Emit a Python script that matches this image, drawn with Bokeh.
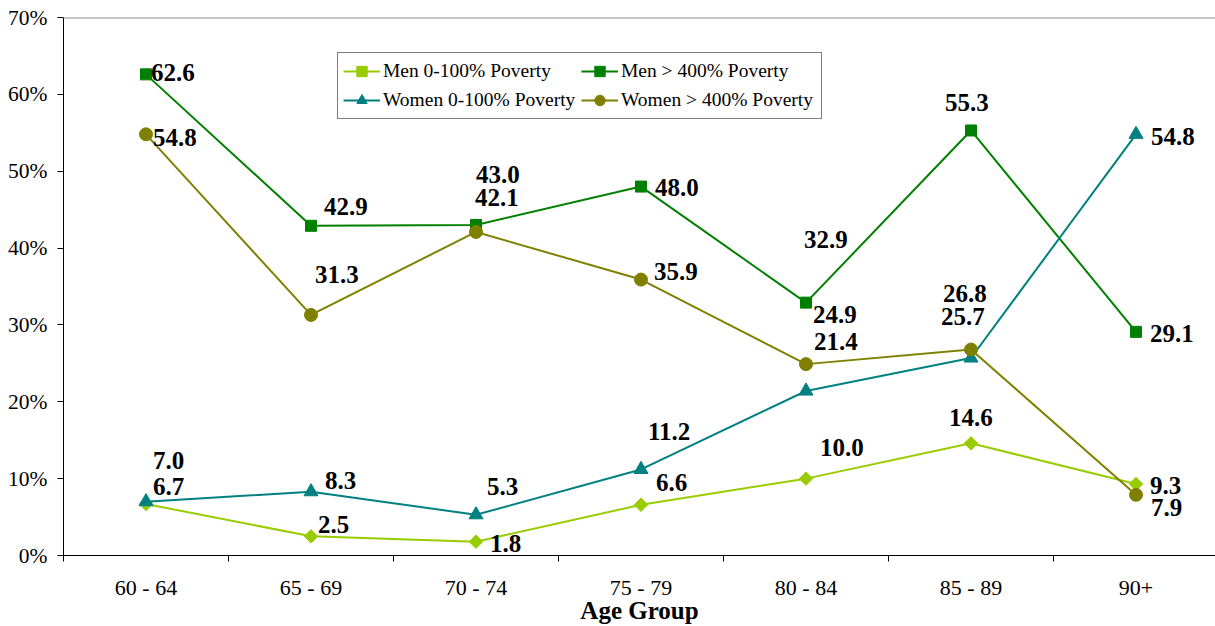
from bokeh.plotting import figure
from bokeh.models import (Range1d, FixedTicker, PrintfTickFormatter, Legend, LegendItem,
                          Span, ColumnDataSource)
from bokeh.core.properties import value
from bokeh.embed import file_html
from bokeh.resources import INLINE

categories = ["60 - 64", "65 - 69", "70 - 74", "75 - 79", "80 - 84", "85 - 89", "90+"]
men_0_100 = [6.7, 2.5, 1.8, 6.6, 10.0, 14.6, 9.3]
men_400 = [62.6, 42.9, 43.0, 48.0, 32.9, 55.3, 29.1]
women_0_100 = [7.0, 8.3, 5.3, 11.2, 21.4, 25.7, 54.8]
women_400 = [54.8, 31.3, 42.1, 35.9, 24.9, 26.8, 7.9]
y_ticks = [0, 10, 20, 30, 40, 50, 60, 70]

# label offsets in pixels (dx right, dy down)
men_0_100_off = [(7, -18), (7, -12), (14, 2), (15, -22), (14, -31), (-22, -26), (14, 1)]
men_400_off = [(5, -2), (13, -19), (0, -51), (14, 1), (-2, -63), (-26, -28), (14, 2)]
women_0_100_off = [(7, -41), (14, -11), (11, -28), (7, -38), (8, -50), (-30, -41), (15, 2)]
women_400_off = [(7, 3), (4, -40), (-1, -34), (13, -8), (7, -50), (-28, -56), (15, 13)]

FONT = "Liberation Serif"

p = figure(width=1215, height=626, output_backend="svg", toolbar_location=None,
           x_range=Range1d(-0.5, 6.4818), y_range=Range1d(0, 70),
           min_border_left=63, min_border_right=0, min_border_top=17, min_border_bottom=71)
p.xgrid.visible = False
p.ygrid.visible = False
p.outline_line_color = None
p.background_fill_color = "white"
p.border_fill_color = "white"

p.add_layout(Span(location=70, dimension="width", line_color="#8c8c8c", line_width=2))

xs = list(range(len(categories)))

xa = p.xaxis[0]
xa.ticker = FixedTicker(ticks=xs, minor_ticks=[i - 0.5 for i in range(len(categories) + 1)])
xa.major_label_overrides = {i: c for i, c in enumerate(categories)}
xa.major_tick_out = 0
xa.major_tick_in = 0
xa.minor_tick_out = 6
xa.minor_tick_in = 0
xa.minor_tick_line_color = "black"
xa.axis_line_color = "black"
xa.major_label_standoff = 13
xa.major_label_text_font = FONT
xa.major_label_text_font_size = "22px"
xa.major_label_text_color = "black"
xa.major_label_text_line_height = 1.0
xa.axis_label = "Age Group"
xa.axis_label_text_font = FONT
xa.axis_label_text_font_style = "bold"
xa.axis_label_text_font_size = "25px"
xa.axis_label_text_color = "black"
xa.axis_label_text_line_height = 1.0
xa.axis_label_standoff = -6

ya = p.yaxis[0]
ya.ticker = FixedTicker(ticks=y_ticks, minor_ticks=[])
ya.formatter = PrintfTickFormatter(format="%d%%")
ya.major_tick_out = 6
ya.major_tick_in = 0
ya.minor_tick_out = 0
ya.minor_tick_in = 0
ya.major_tick_line_color = "black"
ya.axis_line_color = "black"
ya.major_label_standoff = 10
ya.major_label_text_font = FONT
ya.major_label_text_font_size = "21.5px"
ya.major_label_text_color = "black"

series = [
    ("Men 0-100% Poverty", men_0_100, men_0_100_off, "#99CC00", "square", 9.5, 0.785398),
    ("Men > 400% Poverty", men_400, men_400_off, "#008000", "square", 11, 0.0),
    ("Women 0-100% Poverty", women_0_100, women_0_100_off, "#008080", "triangle", 14, 0.0),
    ("Women > 400% Poverty", women_400, women_400_off, "#808000", "circle", 13, 0.0),
]

items = []
for name, vals, offs, color, marker, size, ang in series:
    src = ColumnDataSource(dict(x=xs, y=vals))
    ln = p.line("x", "y", source=src, line_color=color, line_width=2)
    sc = p.scatter("x", "y", source=src, marker=marker, size=size, angle=ang,
                   fill_color=color, line_color=color)
    items.append(LegendItem(label=name, renderers=[ln, sc]))

for name, vals, offs, color, marker, size, ang in series:
    lsrc = ColumnDataSource(dict(x=xs, y=vals, t=[f"{v:.1f}" for v in vals],
                                 dx=[o[0] for o in offs], dy=[o[1] for o in offs]))
    p.text("x", "y", text="t", source=lsrc, x_offset="dx", y_offset="dy",
           text_font=value(FONT), text_font_style="bold", text_font_size="25px",
           text_color="black", text_align="left", text_baseline="middle")

legend = Legend(items=items, location=(274, 436), orientation="horizontal", ncols=2,
                border_line_color="black", border_line_width=1, background_fill_color="white",
                background_fill_alpha=1.0,
                label_text_font=FONT, label_text_font_size="19.5px", label_text_color="black",
                glyph_width=37, glyph_height=26, label_standoff=3, spacing=3, padding=5,
                margin=0, label_height=20, label_width=195)
p.add_layout(legend)

open("out.html", "w").write(file_html(p, INLINE))
